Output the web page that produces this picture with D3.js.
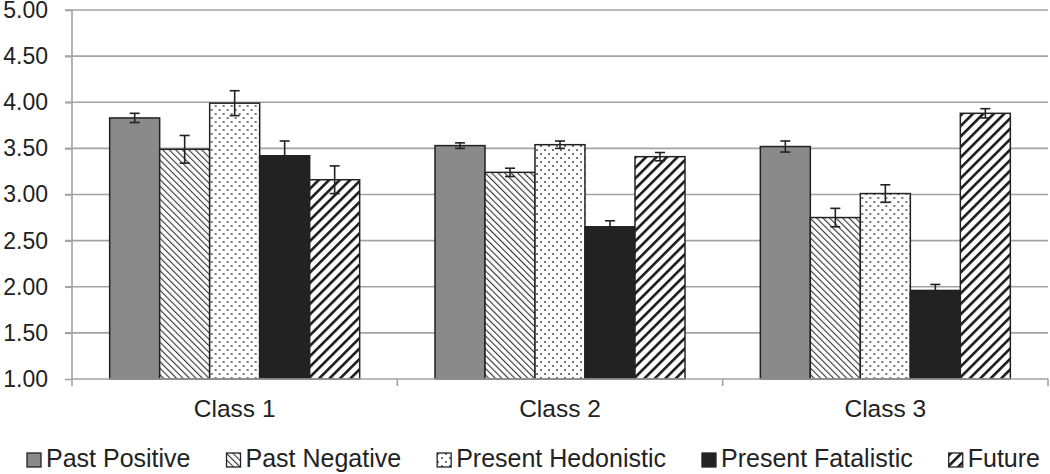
<!DOCTYPE html>
<html>
<head>
<meta charset="utf-8">
<script src="https://cdn.jsdelivr.net/npm/d3@7"></script>
<style>
  body { margin: 0; background: #fff; }
  text { font-family: "Liberation Sans", Arial, sans-serif; fill: #222; }
</style>
</head>
<body>
<svg class="chart" width="1050" height="474"></svg>
<script>
var classes = ["Class 1", "Class 2", "Class 3"];
var series = ["Past Positive", "Past Negative", "Present Hedonistic", "Present Fatalistic", "Future"];
// means per class, same order as series
var means = [
  [3.83, 3.49, 3.99, 3.42, 3.16],
  [3.53, 3.24, 3.54, 2.65, 3.41],
  [3.52, 2.75, 3.01, 1.96, 3.88]
];
// error bar half widths
var errs = [
  [0.05, 0.15, 0.135, 0.16, 0.15],
  [0.03, 0.045, 0.04, 0.065, 0.045],
  [0.06, 0.10, 0.095, 0.065, 0.05]
];
var yTicks = [1, 1.5, 2, 2.5, 3, 3.5, 4, 4.5, 5];

var svg = d3.select(".chart");
var plotLeft = 72, plotRight = 1048, plotTop = 10, plotBottom = 379;

var x0 = d3.scaleBand().domain(classes).range([plotLeft, plotRight]);
var x1 = d3.scaleBand().domain(series).range([0, 250]);
var barOffset = (x0.bandwidth() - 250) / 2;
var y = d3.scaleLinear().domain([1, 5]).range([plotBottom, plotTop]);

// fill patterns
var defs = svg.append("defs");
var pn = defs.append("pattern").attr("id", "pn")
    .attr("width", 4.6).attr("height", 4.6)
    .attr("patternUnits", "userSpaceOnUse")
    .attr("patternTransform", "rotate(-45)");
pn.append("rect").attr("width", 4.6).attr("height", 4.6).attr("fill", "#fff");
pn.append("line").attr("x1", 0).attr("y1", 0).attr("x2", 0).attr("y2", 4.6)
    .attr("stroke", "#333").attr("stroke-width", 2.2);

var ph = defs.append("pattern").attr("id", "ph")
    .attr("width", 8).attr("height", 8)
    .attr("patternUnits", "userSpaceOnUse");
ph.append("rect").attr("width", 8).attr("height", 8).attr("fill", "#fff");
ph.append("circle").attr("cx", 2).attr("cy", 2).attr("r", 1.1).attr("fill", "#555");
ph.append("circle").attr("cx", 6).attr("cy", 6).attr("r", 1.1).attr("fill", "#555");

var fu = defs.append("pattern").attr("id", "fu")
    .attr("width", 7.4).attr("height", 7.4)
    .attr("patternUnits", "userSpaceOnUse")
    .attr("patternTransform", "rotate(45)");
fu.append("rect").attr("width", 7.4).attr("height", 7.4).attr("fill", "#fff");
fu.append("line").attr("x1", 0).attr("y1", 0).attr("x2", 0).attr("y2", 7.4)
    .attr("stroke", "#1a1a1a").attr("stroke-width", 5.2);

var fills = ["#8a8a8a", "url(#pn)", "url(#ph)", "#222", "url(#fu)"];
var color = d3.scaleOrdinal().domain(series).range(fills);

// grid lines
svg.append("g").selectAll("line")
  .data(yTicks.slice(1))
  .join("line")
    .attr("x1", plotLeft - 7).attr("x2", plotRight)
    .attr("y1", function(d) { return y(d); })
    .attr("y2", function(d) { return y(d); })
    .attr("stroke", "#a3a3a3").attr("stroke-width", 1.6);

// y axis
var yAxis = svg.append("g")
    .attr("transform", "translate(" + plotLeft + ",0)")
    .call(d3.axisLeft(y).tickValues(yTicks).tickFormat(d3.format(".2f")).tickSize(7).tickPadding(17));
yAxis.select(".domain").attr("d", "M0," + plotTop + "V" + (plotBottom + 7)).attr("stroke", "#a3a3a3").attr("stroke-width", 1.6);
yAxis.selectAll(".tick line").attr("stroke", "#a3a3a3").attr("stroke-width", 1.6);
yAxis.selectAll(".tick text").style("font-size", "23px").attr("fill", "#222");

// bars
var groups = svg.append("g").selectAll("g")
  .data(classes)
  .join("g")
    .attr("transform", function(d) { return "translate(" + (x0(d) + barOffset) + ",0)"; });

groups.selectAll("rect")
  .data(function(d, i) { return series.map(function(s, j) { return {s: s, v: means[i][j], e: errs[i][j]}; }); })
  .join("rect")
    .attr("x", function(d) { return x1(d.s); })
    .attr("y", function(d) { return y(d.v); })
    .attr("width", x1.bandwidth())
    .attr("height", function(d) { return y(1) - y(d.v); })
    .attr("fill", function(d) { return color(d.s); })
    .attr("stroke", "#222").attr("stroke-width", 1.5);

// error bars
var eb = groups.selectAll("g.err")
  .data(function(d, i) { return series.map(function(s, j) { return {s: s, v: means[i][j], e: errs[i][j]}; }); })
  .join("g").attr("class", "err")
    .attr("transform", function(d) { return "translate(" + (x1(d.s) + x1.bandwidth() / 2) + ",0)"; })
    .attr("stroke", "#222").attr("stroke-width", 1.6);
eb.append("line").attr("x1", 0).attr("x2", 0)
    .attr("y1", function(d) { return y(d.v + d.e); })
    .attr("y2", function(d) { return y(d.v - d.e); });
eb.append("line").attr("x1", -5).attr("x2", 5)
    .attr("y1", function(d) { return y(d.v + d.e); })
    .attr("y2", function(d) { return y(d.v + d.e); });
eb.append("line").attr("x1", -5).attr("x2", 5)
    .attr("y1", function(d) { return y(d.v - d.e); })
    .attr("y2", function(d) { return y(d.v - d.e); });

// x axis
svg.append("line").attr("x1", plotLeft).attr("x2", plotRight)
    .attr("y1", plotBottom).attr("y2", plotBottom)
    .attr("stroke", "#a3a3a3").attr("stroke-width", 1.6);
svg.append("g").selectAll("line")
  .data(classes.slice(1).concat(["end"]))
  .join("line")
    .attr("x1", function(d) { return d == "end" ? plotRight : x0(d); })
    .attr("x2", function(d) { return d == "end" ? plotRight : x0(d); })
    .attr("y1", plotBottom).attr("y2", plotBottom + 7)
    .attr("stroke", "#a3a3a3").attr("stroke-width", 1.6);
svg.append("g").selectAll("text")
  .data(classes)
  .join("text")
    .attr("x", function(d) { return x0(d) + x0.bandwidth() / 2; })
    .attr("y", 417)
    .attr("text-anchor", "middle")
    .style("font-size", "24.5px")
    .text(function(d) { return d; });

// legend
var legend = svg.append("g");
var lx = 27;
series.forEach(function(s) {
  legend.append("rect")
      .attr("x", lx).attr("y", 453).attr("width", 14).attr("height", 14)
      .attr("fill", color(s)).attr("stroke", "#222").attr("stroke-width", 1.3);
  var t = legend.append("text")
      .attr("x", lx + 19).attr("y", 467)
      .style("font-size", "25px")
      .text(s);
  lx = lx + 19 + t.node().getComputedTextLength() + 36;
});
</script>
</body>
</html>
